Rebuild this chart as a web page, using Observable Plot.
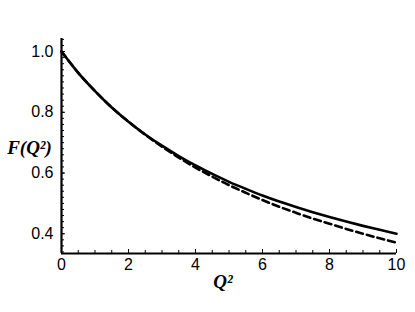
<!DOCTYPE html>
<html>
<head>
<meta charset="utf-8">
<script src="https://cdn.jsdelivr.net/npm/d3@7"></script>
<script src="https://cdn.jsdelivr.net/npm/@observablehq/plot@0.6"></script>
<style>
  html, body { margin: 0; padding: 0; background: #fff; }
  svg { display: block; }
</style>
</head>
<body>
<div id="chart"></div>
<script>
const q2 = [0, 0.5, 1, 1.5, 2, 2.5, 3, 3.5, 4, 4.5, 5, 5.5, 6, 6.5, 7, 7.5, 8, 8.5, 9, 9.5, 10];
const solidF = [1.0, 0.930, 0.870, 0.816, 0.769, 0.727, 0.690, 0.656, 0.625, 0.597, 0.571, 0.548, 0.526, 0.506, 0.488, 0.471, 0.455, 0.440, 0.426, 0.413, 0.400];
const dashedF = [1.0, 0.930, 0.870, 0.816, 0.769, 0.726, 0.687, 0.651, 0.618, 0.588, 0.560, 0.535, 0.511, 0.489, 0.469, 0.450, 0.433, 0.416, 0.400, 0.385, 0.371];
const xMajorTicks = [0, 2, 4, 6, 8, 10];
const xMinorTicks = d3.range(0, 10.01, 0.5);
const yMajorTicks = [0.4, 0.6, 0.8, 1.0];
const yMinorTicks = d3.range(0.34, 1.041, 0.02);
const xDomain = [0, 10];
const yDomain = [0.335, 1.043];
const yTitle = "F(Q²)";
const xTitle = "Q²";

const solid = q2.map((x, i) => ({x, y: solidF[i]}));
const dashed = q2.map((x, i) => ({x, y: dashedF[i]}));

const sans = "'Liberation Sans', Arial, sans-serif";
const serif = "'Liberation Serif', 'Times New Roman', serif";

const chart = Plot.plot({
  width: 415,
  height: 312,
  marginLeft: 61,
  marginRight: 19,
  marginTop: 38,
  marginBottom: 59,
  style: {fontFamily: sans, background: "#fff", color: "#000"},
  x: {domain: xDomain},
  y: {domain: yDomain},
  marks: [
    Plot.axisX(xMinorTicks, {tickSize: -3, tickFormat: () => "", label: null, strokeWidth: 1}),
    Plot.axisX(xMajorTicks, {tickSize: -4, tickPadding: 9, tickFormat: d => String(d), label: null, fontSize: 16, strokeWidth: 1}),
    Plot.axisY(yMinorTicks, {tickSize: -3, tickFormat: () => "", label: null, strokeWidth: 1}),
    Plot.axisY(yMajorTicks, {tickSize: -4, tickPadding: 12, tickFormat: d => d.toFixed(1), label: null, fontSize: 16, strokeWidth: 1}),
    Plot.ruleX([xDomain[0]], {strokeWidth: 2.2}),
    Plot.ruleY([yDomain[0]], {strokeWidth: 2.2}),
    Plot.line(solid, {x: "x", y: "y", stroke: "#000", strokeWidth: 2.6, curve: "monotone-x"}),
    Plot.line(dashed, {x: "x", y: "y", stroke: "#000", strokeWidth: 2.6, strokeDasharray: "7,4", curve: "monotone-x"}),
    Plot.text([yTitle], {frameAnchor: "left", dx: -32, dy: 1.5, fontFamily: serif, fontWeight: "bold", fontStyle: "italic", fontSize: 19, textAnchor: "middle"}),
    Plot.text([xTitle], {frameAnchor: "bottom", dx: -6, dy: 34, fontFamily: serif, fontWeight: "bold", fontStyle: "italic", fontSize: 19})
  ]
});
document.getElementById("chart").appendChild(chart);
</script>
</body>
</html>
